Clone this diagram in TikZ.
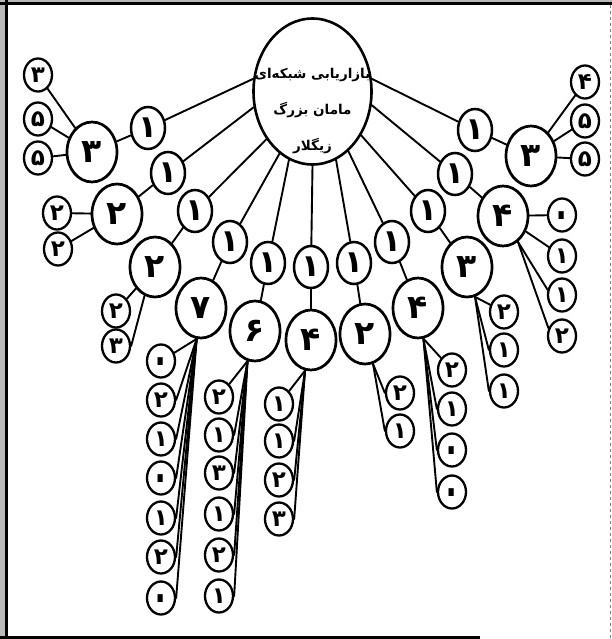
\documentclass[tikz,border=0pt]{standalone}
\usepackage{fontspec}
\newfontfamily\fa[Script=Arabic]{DejaVu Sans}
\TeXXeTstate=1
\usetikzlibrary{shapes.geometric}
\newcommand\zr{\raisebox{-13pt}[0pt][0pt]{\scalebox{1.3}[2.0]{۰}}}
\begin{document}
\begin{tikzpicture}[x=1pt,y=-1pt,
  bub/.style={ellipse,draw,inner sep=0pt,text=black},
  rootn/.style={bub,line width=2.6pt,minimum width=118pt,minimum height=146pt},
  onen/.style={bub,line width=2.5pt,minimum width=34pt,minimum height=42pt,font=\fa\bfseries\fontsize{31}{31}\selectfont},
  bign/.style={bub,line width=2.7pt,minimum width=50pt,minimum height=60pt,font=\fa\bfseries\fontsize{33}{33}\selectfont},
  leafn/.style={bub,line width=2.3pt,minimum width=28pt,minimum height=33pt,font=\fa\bfseries\fontsize{23}{23}\selectfont},
  conn/.style={line width=1.9pt,line cap=round},
  txt/.style={draw=none,inner sep=0pt,align=center,font=\fa\bfseries\fontsize{13.5}{36}\selectfont}]
\useasboundingbox (0,0) rectangle (612,639);
% frame
\fill[gray!55] (0,0) rectangle (612,639);
\fill[white] (7,5) rectangle (612,639);
\draw[line width=3pt] (6.5,0) -- (6.5,639);
\draw[line width=3pt] (0,4) -- (612,4);
\draw[line width=3pt] (0,637) -- (480,637);
\draw[gray,line width=0.8pt,dashed] (610,5) -- (610,639);
% root
\node[rootn] (root) at (312.5,91.5) {};
\node[txt] (roottext) at (312.5,111) {\beginR بازاریابی شبکه‌ای\endR\\\beginR مامان بزرگ\endR\\\beginR زیگلار\endR};
% first level
\node[onen] (o1) at (148,128) {۱};
\node[onen] (o2) at (168,173) {۱};
\node[onen] (o3) at (195,211) {۱};
\node[onen] (o4) at (230,242) {۱};
\node[onen] (o5) at (268,263) {۱};
\node[onen] (o6) at (311,267) {۱};
\node[onen] (o7) at (354,263) {۱};
\node[onen] (o8) at (392,242) {۱};
\node[onen] (o9) at (428,211) {۱};
\node[onen] (o10) at (455,174) {۱};
\node[onen] (o11) at (475,130) {۱};
% second level
\node[bign] (b1) at (92,152) {۳};
\node[bign] (b2) at (117,214) {۲};
\node[bign] (b3) at (155,267) {۲};
\node[bign] (b4) at (201,308) {۷};
\node[bign] (b5) at (255,331) {۶};
\node[bign] (b6) at (311,340) {۴};
\node[bign] (b7) at (365,334) {۲};
\node[bign] (b8) at (418,308) {۴};
\node[bign] (b9) at (467,267) {۳};
\node[bign] (b10) at (503,216) {۴};
\node[bign] (b11) at (531,156) {۳};
% leaves
\foreach \yy/\tt [count=\i] in {75/۳,119/۵,158/۵} \node[leafn] (lA\i) at (38,\yy) {\tt};
\node[leafn] (lB1) at (57,213) {۲};
\node[leafn] (lB2) at (58,249) {۲};
\node[leafn] (lC1) at (116,311) {۲};
\node[leafn] (lC2) at (116,346) {۳};
\foreach \yy/\tt [count=\i] in {361/\zr,400/۲,439/۱,478/\zr,518/۱,557/۲,598/\zr} \node[leafn] (lD\i) at (161,\yy) {\tt};
\foreach \yy/\tt [count=\i] in {397/۲,435/۱,473/۳,514/۱,555/۲,596/۱} \node[leafn] (lE\i) at (219,\yy) {\tt};
\foreach \yy/\tt [count=\i] in {404/۱,441/۱,480/۲,519/۳} \node[leafn] (lF\i) at (279,\yy) {\tt};
\foreach \yy/\tt [count=\i] in {393/۲,431/۱} \node[leafn] (lG\i) at (400,\yy) {\tt};
\foreach \yy/\tt [count=\i] in {370/۲,409/۱,450/\zr,492/\zr} \node[leafn] (lH\i) at (452,\yy) {\tt};
\foreach \yy/\tt [count=\i] in {312/۲,350/۱,391/۱} \node[leafn] (lI\i) at (504,\yy) {\tt};
\foreach \yy/\tt [count=\i] in {215/\zr,256/۱,295/۱,336/۲} \node[leafn] (lJ\i) at (562,\yy) {\tt};
\foreach \yy/\tt [count=\i] in {82/۴,121/۵,159/۵} \node[leafn] (lK\i) at (585,\yy) {\tt};
% root connectors
\draw[conn] (root.168) -- (o1);
\draw[conn] (root.195) -- (o2);
\draw[conn] (root.226) -- (o3);
\draw[conn] (root.242) -- (o4);
\draw[conn] (root.251) -- (o5);
\draw[conn] (root.270) -- (o6);
\draw[conn] (root.289) -- (o7);
\draw[conn] (root.301) -- (o8);
\draw[conn] (root.318) -- (o9);
\draw[conn] (root.347) -- (o10);
\draw[conn] (root.12) -- (o11);
\foreach \i in {1,...,11} \draw[conn] (o\i) -- (b\i);
% leaf connectors
\foreach \i in {1,2,3} \draw[conn] (b1) -- (lA\i);
\foreach \i in {1,2} \draw[conn] (b2) -- (lB\i);
\draw[conn] (b3) -- (lC1);
\draw[conn] (b3.250) -- (lC2.east);
\draw[conn] (b4.262) -- (lD1);
\foreach \i in {2,...,7} \draw[conn] (b4.262) -- (lD\i.east);
\draw[conn] (b5.256) -- (lE1);
\foreach \i in {2,...,6} \draw[conn] (b5.256) -- (lE\i.east);
\draw[conn] (b6.259) -- (lF1);
\foreach \i in {2,...,4} \draw[conn] (b6.259) -- (lF\i.east);
\foreach \i in {1,2} \draw[conn] (b7.285) -- (lG\i.west);
\draw[conn] (b8.280) -- (lH1);
\foreach \i in {2,...,4} \draw[conn] (b8.280) -- (lH\i.west);
\draw[conn] (b9.285) -- (lI1);
\foreach \i in {2,3} \draw[conn] (b9.285) -- (lI\i.west);
\draw[conn] (b10) -- (lJ1);
\draw[conn] (b10) -- (lJ2);
\draw[conn] (b10.300) -- (lJ3.160);
\draw[conn] (b10.300) -- (lJ4.150);
\foreach \i in {1,2,3} \draw[conn] (b11) -- (lK\i);
\end{tikzpicture}
\end{document}
